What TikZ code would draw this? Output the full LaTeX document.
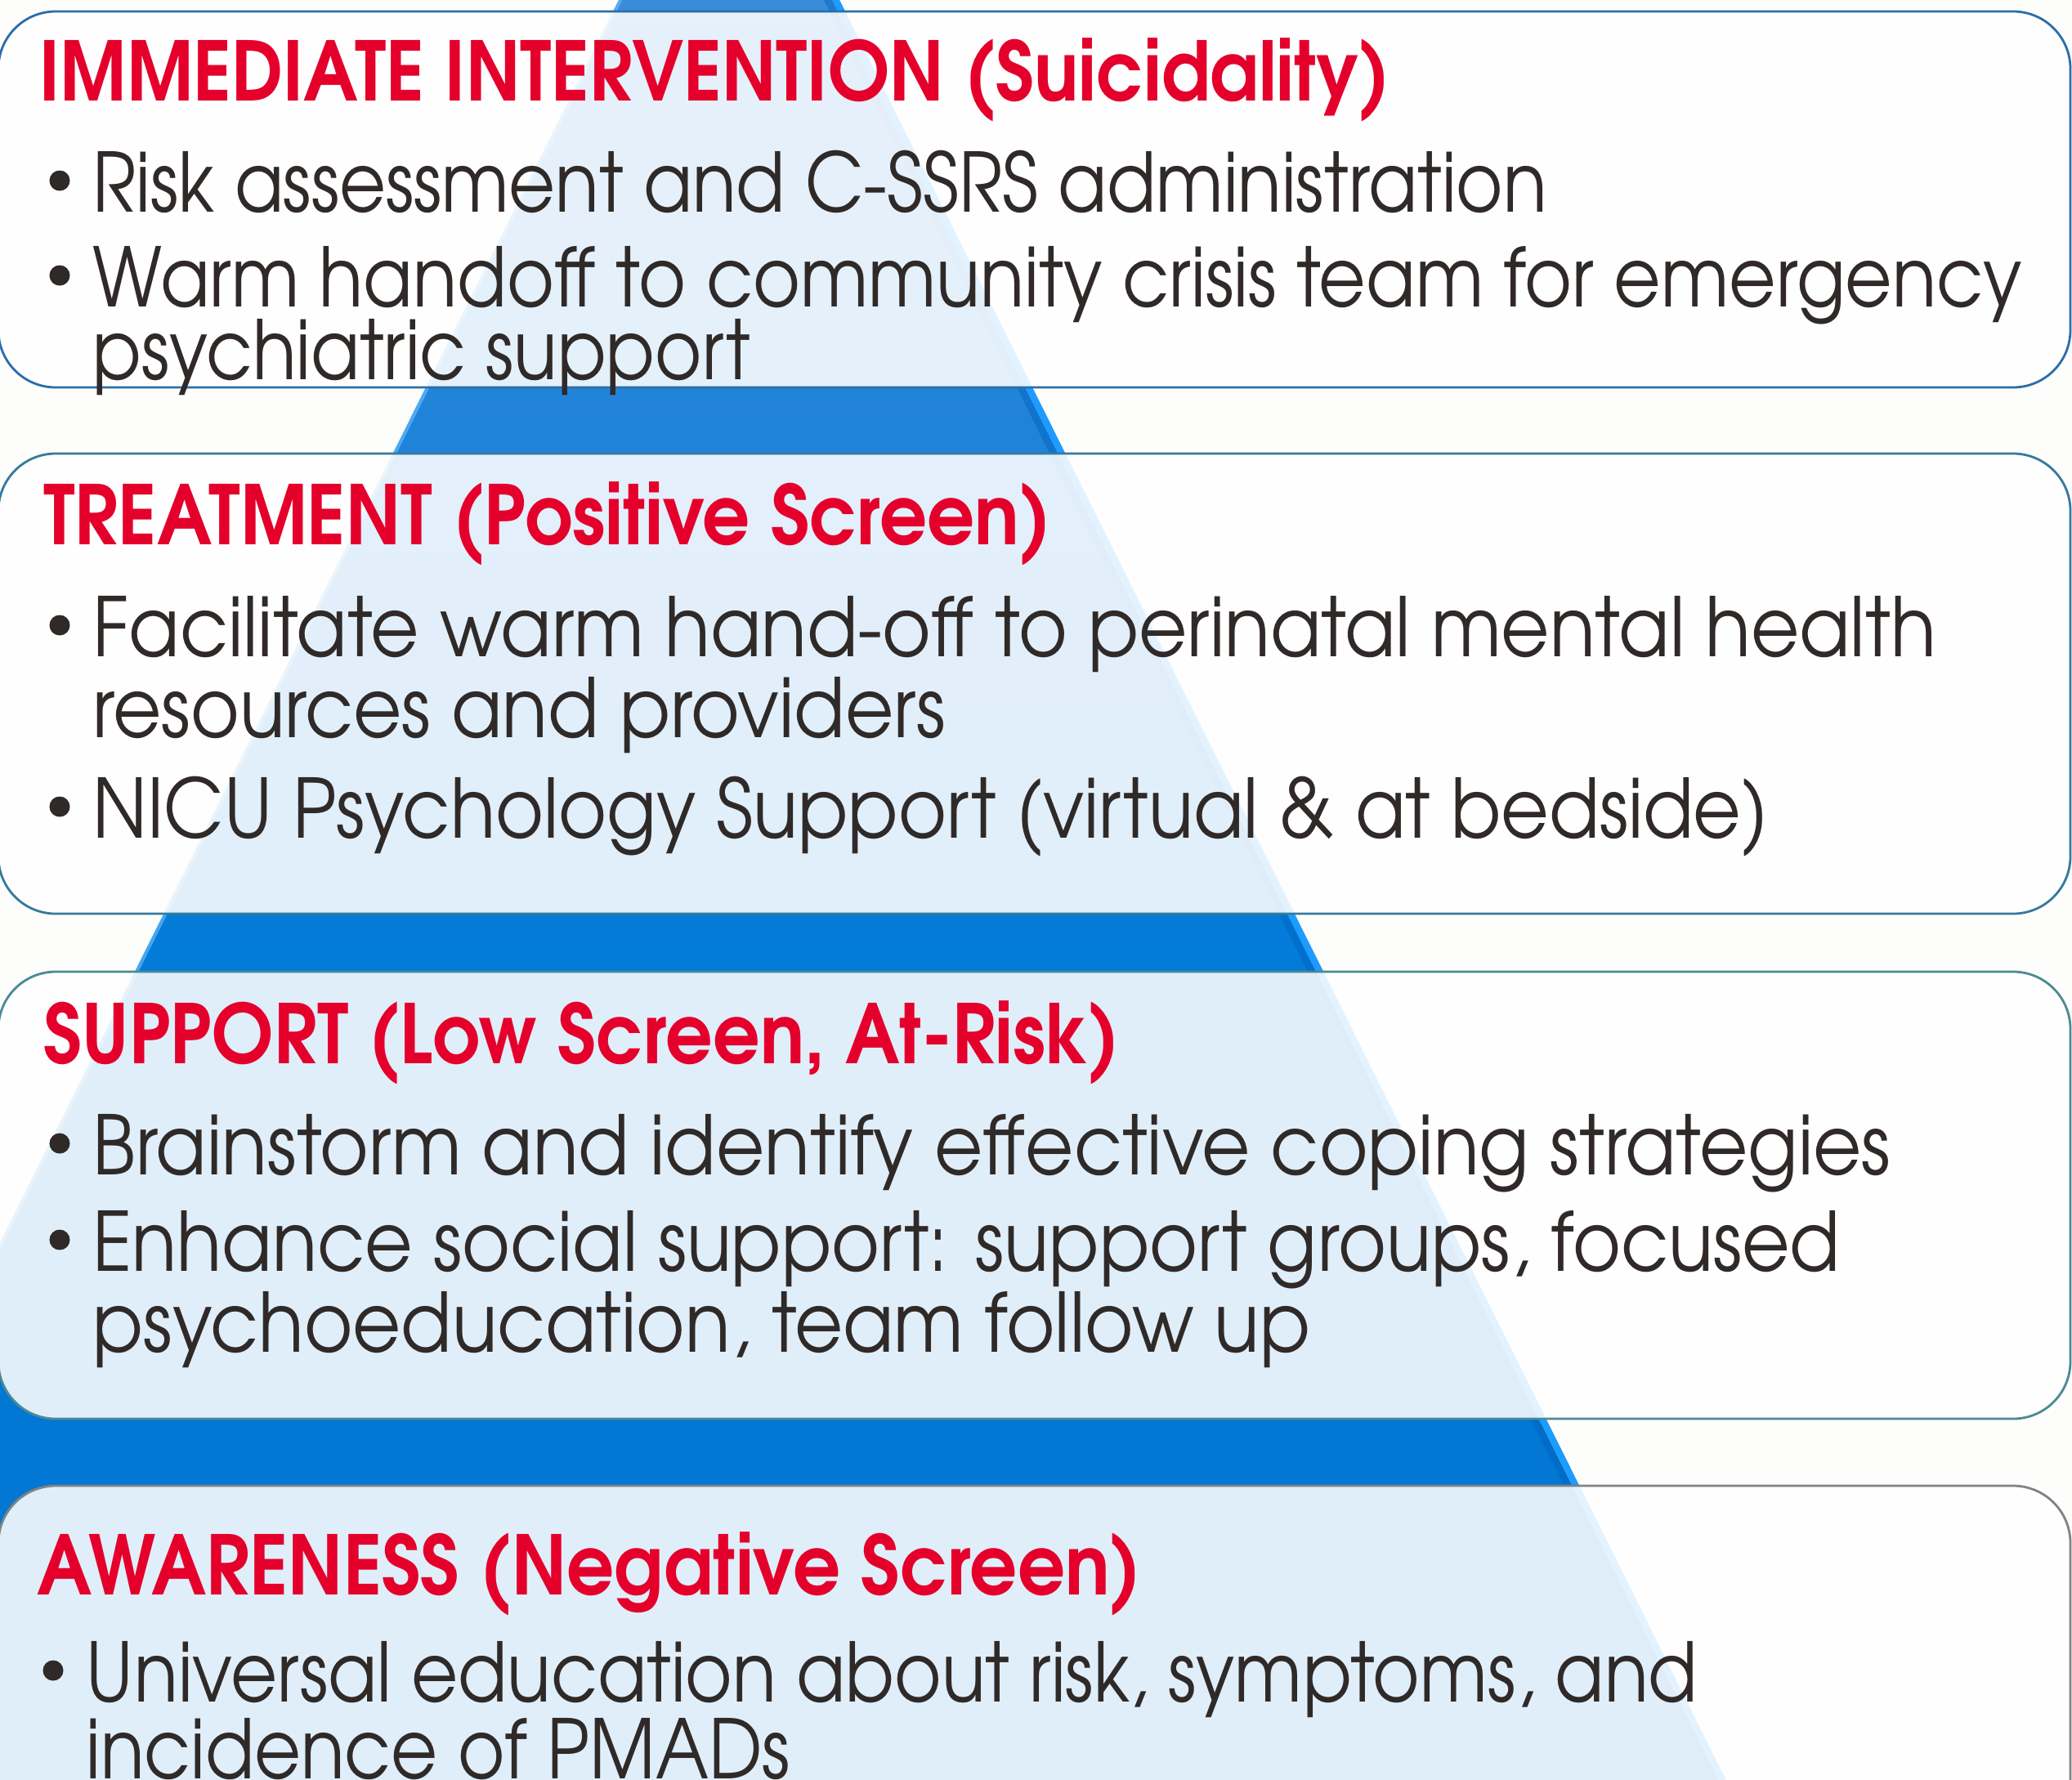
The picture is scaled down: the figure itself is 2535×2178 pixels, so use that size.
\documentclass[tikz,border=0pt]{standalone}
\usepackage{fontspec}
\usetikzlibrary{calc}
\setmainfont{texgyreadventor}[Extension=.otf, UprightFont=*-regular, BoldFont=*-bold]
\definecolor{paper}{HTML}{FDFDFB}
\definecolor{headred}{HTML}{E4002B}
\definecolor{ink}{HTML}{2F2A28}
\definecolor{pyrA}{HTML}{0276D2}
\definecolor{pyrB}{HTML}{0277D4}
\definecolor{pyrC}{HTML}{037BD8}
\definecolor{pyrD}{HTML}{1F83D9}
\definecolor{pyrE}{HTML}{3A8CDA}
\definecolor{pyrF}{HTML}{4592DC}
\definecolor{pyrglow}{HTML}{1E9BFF}
\definecolor{pyrshade}{HTML}{0062BC}
\definecolor{rimA}{HTML}{2A6EAA}
\definecolor{rimB}{HTML}{357A9C}
\definecolor{rimC}{HTML}{4B8A94}
\definecolor{rimD}{HTML}{7D8486}
% pyramid body: darker towards the base
\pgfdeclareverticalshading{pyrfill}{100bp}{color(0bp)=(pyrA); color(25bp)=(pyrA); color(37bp)=(pyrB); color(48bp)=(pyrC); color(60bp)=(pyrD); color(70bp)=(pyrE); color(75bp)=(pyrF); color(100bp)=(pyrF)}
% narrow a line of text horizontally only
\newcommand{\narrow}[2]{\scalebox{#1}[1]{#2}}
\tikzset{
  panel/.style={fill=white, fill opacity=0.88, draw=#1, draw opacity=1, line width=0.8pt, rounded corners=0.7cm},
  head/.style={anchor=base west, inner sep=0pt, text=headred, font=\fontsize{28.5}{30}\selectfont\bfseries},
  item/.style={anchor=base west, inner sep=0pt, text=ink, font=\fontsize{28.5}{30}\selectfont},
  bul/.style={circle, fill=ink, inner sep=0pt, minimum size=0.25cm}
}
\begin{document}
\begin{tikzpicture}[x=0.01cm, y=-0.01cm]
  \useasboundingbox (0,0) rectangle (2535,2178);
  \clip (0,0) rectangle (2535,2178);
  \fill[paper] (0,0) rectangle (2535,2178);

  % pyramid
  \coordinate (apex) at (892,-271);
  \coordinate (baseL) at (-438,2400);
  \coordinate (baseR) at (2222,2400);
  \shade[shading=pyrfill] (apex) -- (baseR) -- (baseL) -- cycle;
  \begin{scope}
    \clip (apex) -- (baseR) -- (baseL) -- cycle;
    \draw[pyrshade, opacity=0.45, line width=0.09cm] ($(apex)+(-14,0)$) -- ($(baseR)+(-14,0)$);
    \draw[pyrglow, line width=0.16cm] (apex) -- (baseR);
    \draw[pyrglow!70!white, opacity=0.7, line width=0.08cm] (apex) -- (baseL);
  \end{scope}

  % panels
  \draw[panel=rimA] (-2,14) rectangle (2533,474);
  \draw[panel=rimB] (-2,555) rectangle (2533,1118);
  \draw[panel=rimC] (-2,1189) rectangle (2533,1736);
  \draw[panel=rimD] (-2,1818) rectangle (2533,2320);

  % panel 1
  \node[head] (h1) at (48,123) {\narrow{0.90}{IMMEDIATE INTERVENTION (Suicidality)}};
  \node[bul] (d1a) at (73,221) {};
  \node[item] (t1a) at (113,259) {\narrow{0.876}{Risk assessment and C-SSRS administration}};
  \node[bul] (d1b) at (73,337) {};
  \node[item] (t1b) at (113,375) {\narrow{0.884}{Warm handoff to community crisis team for emergency}};
  \node[item] (t1c) at (113,464) {\narrow{0.875}{psychiatric support}};

  % panel 2
  \node[head] (h2) at (53,666) {\narrow{0.908}{TREATMENT (Positive Screen)}};
  \node[bul] (d2a) at (73,765) {};
  \node[item] (t2a) at (113,803) {\narrow{0.911}{Facilitate warm hand-off to perinatal mental health}};
  \node[item] (t2b) at (113,902) {\narrow{0.911}{resources and providers}};
  \node[bul] (d2c) at (73,987) {};
  \node[item] (t2c) at (113,1025) {\narrow{0.90}{NICU Psychology Support (virtual \& at bedside)}};

  % panel 3
  \node[head] (h3) at (53,1301) {\narrow{0.90}{SUPPORT (Low Screen, At-Risk)}};
  \node[bul] (d3a) at (73,1399) {};
  \node[item] (t3a) at (113,1437) {\narrow{0.91}{Brainstorm and identify effective coping strategies}};
  \node[bul] (d3b) at (73,1517) {};
  \node[item] (t3b) at (113,1555) {\narrow{0.899}{Enhance social support: support groups, focused}};
  \node[item] (t3c) at (113,1654) {\narrow{0.908}{psychoeducation, team follow up}};

  % panel 4
  \node[head] (h4) at (45,1951) {\narrow{0.908}{AWARENESS (Negative Screen)}};
  \node[bul] (d4a) at (65,2044) {};
  \node[item] (t4a) at (105,2082) {\narrow{0.878}{Universal education about risk, symptoms, and}};
  \node[item] (t4b) at (105,2176) {\narrow{0.876}{incidence of PMADs}};
\end{tikzpicture}
\end{document}
